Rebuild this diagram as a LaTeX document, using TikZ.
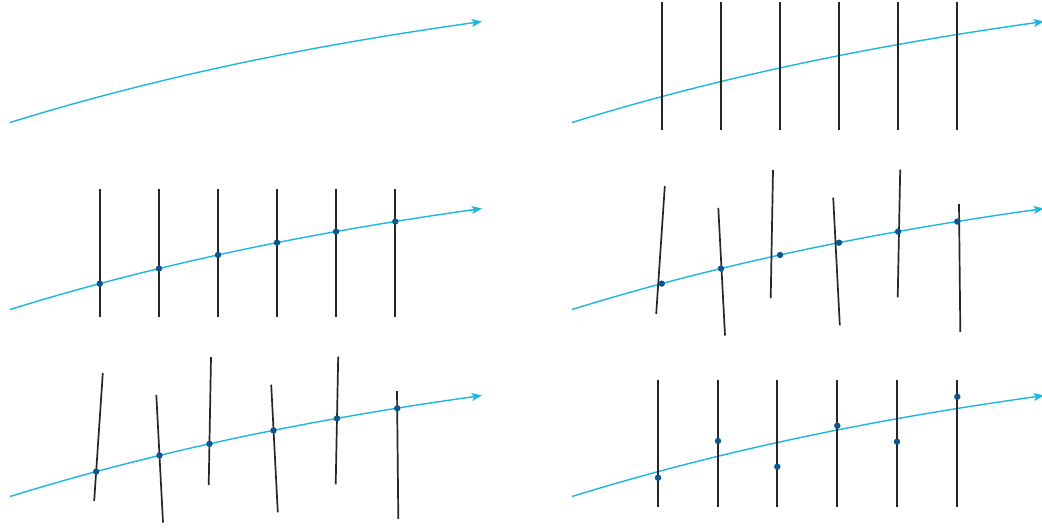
\documentclass[tikz,border=0pt]{standalone}
\usetikzlibrary{arrows.meta,intersections}
\definecolor{curvecyan}{HTML}{1AB7E0}
\definecolor{dotblue}{HTML}{0A5592}
\definecolor{rulegray}{HTML}{262626}
\tikzset{
  curvestyle/.style={draw=curvecyan, line width=0.7pt, -{Stealth[length=5.2pt,width=4pt,inset=1.3pt]}},
  ruleline/.style={draw=rulegray, line width=0.85pt},
  dotstyle/.style={fill=dotblue},
}
\newcommand\mycurve[1]{\path[curvestyle, name path=#1] (10,122.5) .. controls (167,73.8) and (325,43.5) .. (482,21.5);}
\newcommand\mydot[1]{\fill[dotstyle] (#1) circle (1.6pt);}
\begin{document}
\begin{tikzpicture}[x=0.5pt,y=-0.5pt]
\useasboundingbox (0,0) rectangle (1042,527);
% panel 1
\begin{scope}
  \mycurve{c1}
\end{scope}
% panel 2
\begin{scope}[shift={(562,0)}]
  \mycurve{c2}
  \foreach \x in {99.7,159,218,277,336,395.3}{\draw[ruleline] (\x,2) -- (\x,129.5);}
\end{scope}
% panel 3
\begin{scope}[shift={(0,187)}]
  \mycurve{c3}
  \foreach \x [count=\i] in {99.7,159,218,277,336,395.3}{
    \path[ruleline, name path=v3\i] (\x,2) -- (\x,129.5);
    \path[name intersections={of=c3 and v3\i, name=p3\i}];
    \mydot{p3\i-1}
  }
\end{scope}
% panel 4
\begin{scope}[shift={(562,187)}]
  \mycurve{c4}
  \foreach \x [count=\i] in {99.7,159,218,277,336,395.3}{
    \path[name path=v4\i] (\x,2) -- (\x,129.5);
    \path[name intersections={of=c4 and v4\i, name=p4\i}];
  }
  \draw[ruleline] (102.8,-0.8) -- (94.2,126.8);
  \draw[ruleline] (156.3,20.8) -- (163,148.5);
  \draw[ruleline] (211,-16.8) -- (208.7,111.2);
  \draw[ruleline] (271.2,10.7) -- (277.8,138.3);
  \draw[ruleline] (338.2,-17.3) -- (335.7,110.3);
  \draw[ruleline] (397,17) -- (398.3,144.8);
  \foreach \i in {1,...,6}{\mydot{p4\i-1}}
\end{scope}
% panel 5
\begin{scope}[shift={(0,374)}]
  \mycurve{c5}
  \path[ruleline, name path=t1] (102.8,-0.8) -- (94.2,126.8);
  \path[ruleline, name path=t2] (156.3,20.8) -- (163,148.5);
  \path[ruleline, name path=t3] (211,-16.8) -- (208.7,111.2);
  \path[ruleline, name path=t4] (271.2,10.7) -- (277.8,138.3);
  \path[ruleline, name path=t5] (338.2,-17.3) -- (335.7,110.3);
  \path[ruleline, name path=t6] (397,17) -- (398.3,144.8);
  \foreach \i in {1,...,6}{
    \path[name intersections={of=c5 and t\i, name=p5\i}];
    \mydot{p5\i-1}
  }
\end{scope}
% panel 6
\begin{scope}[shift={(562,374)}]
  \mycurve{c6}
  \foreach \x/\y [count=\i] in {96/103.7,156/67,215.3/92.7,275.3/51.7,335/67.7,395.3/22.7}{
    \draw[ruleline] (\x,5.5) -- (\x,133);
    \coordinate (d6\i) at (\x,\y);
    \mydot{d6\i}
  }
\end{scope}
\end{tikzpicture}
\end{document}
